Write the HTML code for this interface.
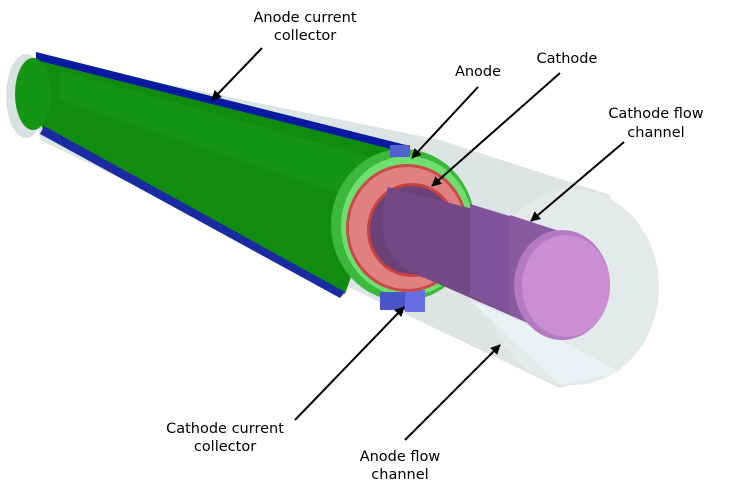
<!DOCTYPE html>
<html><head><meta charset="utf-8"><style>
html,body{margin:0;padding:0;background:#fff;width:741px;height:489px;overflow:hidden}
svg{display:block}
text{font-family:"DejaVu Sans","Liberation Sans",sans-serif;font-size:14.5px;fill:#000}
</style></head><body>
<svg width="741" height="489" viewBox="0 0 741 489" xmlns="http://www.w3.org/2000/svg">
<defs>
<marker id="ah" markerWidth="10" markerHeight="10" refX="9" refY="5" orient="auto" markerUnits="userSpaceOnUse">
<path d="M0,0 L10,5 L0,10 z" fill="#000"/></marker>
</defs>
<path d="M28,56 L440,140 L610,195 L620,370 L560,388 L40,140 Z" fill="#dce4e4"/>
<ellipse cx="573" cy="287" rx="86" ry="98" fill="#e2eaea"/>
<ellipse cx="26" cy="96" rx="20" ry="42" fill="#d8e2e2"/>
<path d="M470,300 L560,385 L620,372 L560,340 Z" fill="#eaf3f3"/>
<path d="M36,52 L410,146 L410,160 L36,62 Z" fill="#0a1aa0"/>
<path d="M36,60 L395,150 L345,294 L42,128 Z" fill="#118c11"/>
<path d="M44,126 L345,292 L340,298 L40,134 Z" fill="#1a2aa0"/>
<ellipse cx="33" cy="94" rx="18" ry="36" fill="#149614"/>
<path d="M60,70 L380,160 L360,200 L60,100 Z" fill="#169a16" opacity="0.6"/>
<ellipse cx="403" cy="225" rx="72" ry="76" fill="#3cb83c"/>
<ellipse cx="407" cy="226" rx="66" ry="70" fill="#6fe06f"/>
<rect x="390" y="145" width="20" height="12" fill="#5560d0"/>
<rect x="380" y="292" width="42" height="18" fill="#4a55c8"/>
<rect x="405" y="290" width="20" height="22" fill="#6670e0"/>
<ellipse cx="407" cy="228" rx="61" ry="64" fill="#c84a4a"/>
<ellipse cx="407" cy="228" rx="58" ry="61" fill="#e08080"/>
<ellipse cx="412" cy="230" rx="45" ry="47" fill="#c84040"/>
<ellipse cx="412" cy="230" rx="42" ry="44" fill="#6a4278"/>
<path d="M388,187 L562,232 L562,338 L425,278 Q368,262 388,187 Z" fill="#744884"/>
<path d="M470,204 L562,232 L562,338 L470,296 Z" fill="#80529a"/>
<path d="M510,215 L562,232 L562,338 L510,315 Z" fill="#8a5aa0"/>
<ellipse cx="562" cy="285" rx="48" ry="55" fill="#b47ac4"/>
<ellipse cx="566" cy="286" rx="44" ry="51" fill="#cc8ed2"/>
<g stroke="#000" stroke-width="2" fill="none">
<line x1="262" y1="48" x2="212" y2="100" marker-end="url(#ah)"/>
<line x1="478" y1="87" x2="412" y2="158" marker-end="url(#ah)"/>
<line x1="560" y1="73" x2="432" y2="186" marker-end="url(#ah)"/>
<line x1="624" y1="142" x2="531" y2="221" marker-end="url(#ah)"/>
<line x1="295" y1="420" x2="404" y2="307" marker-end="url(#ah)"/>
<line x1="405" y1="440" x2="500" y2="345" marker-end="url(#ah)"/>
</g>
<g text-anchor="middle">
<text x="305" y="22">Anode current</text>
<text x="305" y="40">collector</text>
<text x="478" y="76">Anode</text>
<text x="567" y="63">Cathode</text>
<text x="656" y="118">Cathode flow</text>
<text x="656" y="137">channel</text>
<text x="225" y="433">Cathode current</text>
<text x="225" y="451">collector</text>
<text x="400" y="461">Anode flow</text>
<text x="400" y="479">channel</text>
</g>
</svg>
</body></html>
